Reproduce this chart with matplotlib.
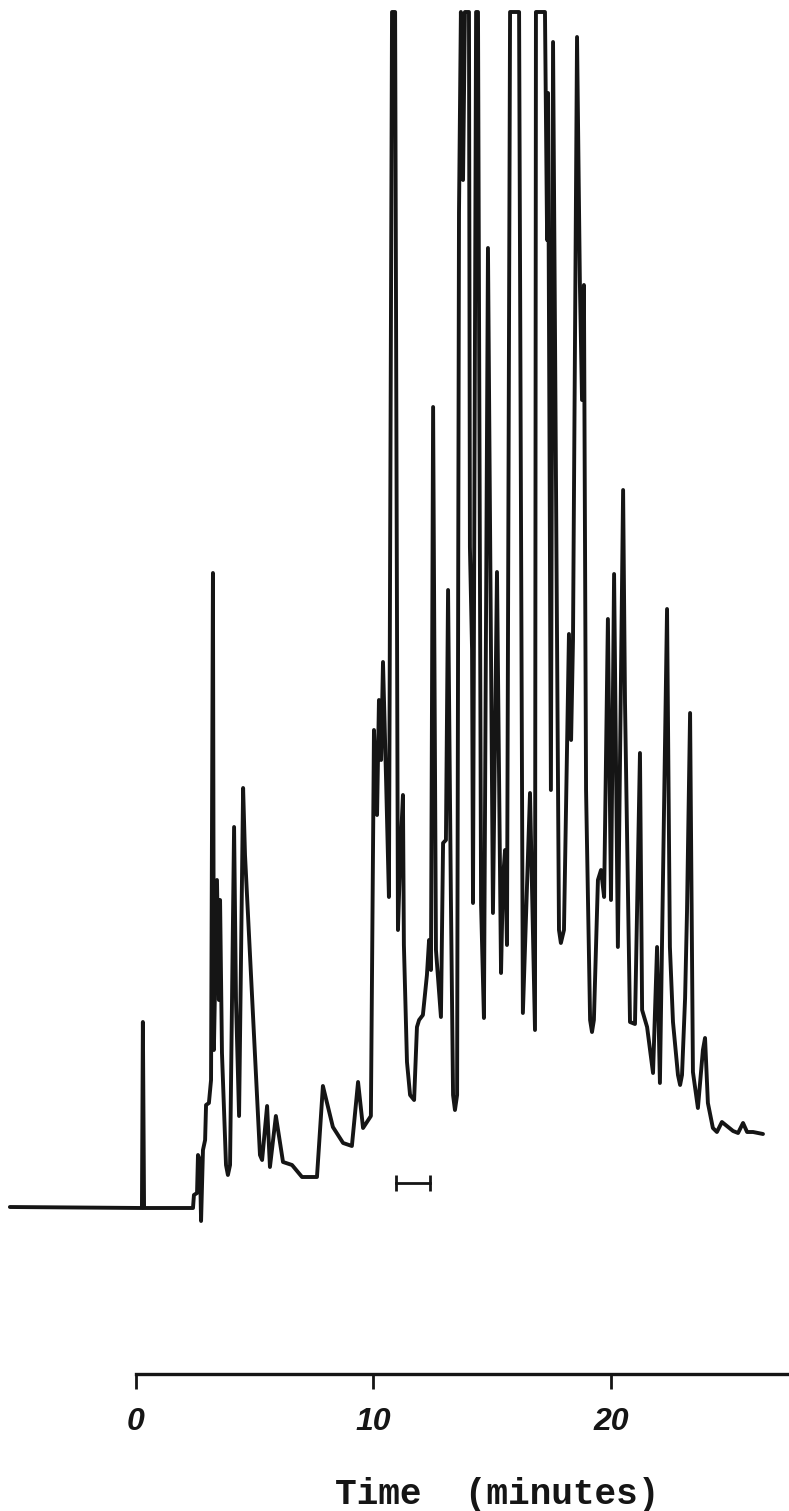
import matplotlib
matplotlib.use("Agg")
import matplotlib.pyplot as plt

# Chromatogram trace: retention time (min) and detector response (arbitrary units)
time_min = [
    -5.31, 0.25, 0.29, 0.34, 2.40, 2.44, 2.57, 2.61, 2.69, 2.74,
    2.82, 2.91, 2.95, 3.07, 3.16, 3.24, 3.28, 3.41, 3.49, 3.54,
    3.62, 3.79, 3.87, 3.96, 4.13, 4.21, 4.34, 4.51, 4.59, 5.22, 5.31, 5.52,
    5.64, 5.89, 6.19, 6.57, 6.99, 7.62, 7.87, 8.29, 8.72, 9.09,
    9.35, 9.56, 9.89, 10.02, 10.15, 10.23, 10.32, 10.40, 10.53, 10.65,
    10.78, 10.91, 11.03, 11.12, 11.24, 11.28, 11.41, 11.54, 11.71, 11.83,
    11.92, 12.08, 12.25, 12.34, 12.42, 12.51, 12.63, 12.84, 12.93, 13.05,
    13.14, 13.26, 13.35, 13.43, 13.52, 13.60, 13.68, 13.77, 13.85, 14.02, 14.06, 14.15,
    14.19, 14.32, 14.40, 14.53, 14.65, 14.82, 15.03, 15.20, 15.37, 15.45,
    15.54, 15.62, 15.75, 16.13, 16.29, 16.59, 16.80, 16.84, 17.22, 17.31,
    17.35, 17.47, 17.56, 17.81, 17.89, 18.02, 18.15, 18.23, 18.32, 18.40, 18.57, 18.69,
    18.78, 18.86, 18.95, 19.12, 19.20, 19.28, 19.45, 19.58, 19.71, 19.87, 20.00, 20.13,
    20.29, 20.51, 20.59, 20.80, 21.01, 21.22, 21.31, 21.52, 21.77, 21.94,
    22.06, 22.36, 22.48, 22.61, 22.82, 22.91, 22.99, 23.12, 23.20, 23.33, 23.45, 23.66,
    23.87, 23.96, 24.08, 24.29, 24.46, 24.67, 24.93, 25.14, 25.35, 25.56,
    25.73, 25.98, 26.40,
]
signal = [
    0.1, 0.0, 18.6, 0.0, 0.0, 1.3, 1.5, 5.3, 4.8, -1.3,
    5.8, 6.8, 10.3, 10.5, 12.8, 63.5, 15.8, 32.8, 20.8, 30.8,
    15.5, 4.3, 3.3, 4.3, 38.1, 20.8, 9.2, 42.0, 35.3, 5.3, 4.8, 10.2,
    4.1, 9.2, 4.6, 4.3, 3.1, 3.1, 12.2, 8.1, 6.5, 6.2,
    12.6, 8.0, 9.2, 47.8, 39.3, 50.8, 44.8, 54.6, 42.8, 31.1,
    119.6, 119.6, 27.8, 34.8, 41.3, 26.3, 14.6, 11.3, 10.8, 18.1,
    18.8, 19.3, 23.3, 26.8, 23.8, 80.1, 25.8, 19.1, 36.5, 36.8,
    61.8, 30.8, 11.3, 9.8, 11.3, 99.5, 119.6, 102.8, 119.6, 119.6, 66.1, 55.8,
    30.5, 119.6, 119.6, 30.3, 19.0, 96.0, 29.5, 63.6, 23.5, 32.8,
    35.8, 26.3, 119.6, 119.6, 19.5, 41.5, 17.8, 119.6, 119.6, 96.8,
    111.5, 41.8, 116.6, 27.8, 26.5, 27.8, 46.0, 57.4, 46.8, 56.8, 117.1, 92.5,
    80.8, 92.3, 41.8, 18.8, 17.6, 18.8, 32.8, 33.8, 31.1, 58.9, 30.8, 63.4,
    26.1, 71.8, 50.5, 18.6, 18.4, 45.5, 19.8, 18.1, 13.5, 26.1,
    12.5, 59.9, 26.1, 18.6, 13.3, 12.3, 13.3, 21.0, 29.6, 49.5, 13.6, 10.0,
    15.8, 17.0, 10.5, 8.0, 7.6, 8.6, 8.1, 7.7, 7.5, 8.5,
    7.6, 7.6, 7.4,
]

# Fraction-collection window marked under the trace
window_min = [10.95, 12.38]
window_level = 2.5

# Time axis
tick_values = [0, 10, 20]
tick_labels = ["0", "10", "20"]
axis_end_min = 27.5
axis_level = -16.6

ink = "#151515"

fig = plt.figure(figsize=(7.89, 15.11), dpi=100)
ax = fig.add_axes([0, 0, 1, 1])
ax.set_xlim(-5.726, 27.495)
ax.set_ylim(-30.3, 120.8)

ax.plot(time_min, signal, color=ink, lw=2.8, solid_joinstyle="round",
        solid_capstyle="round")

ax.plot(window_min, [window_level, window_level], color=ink, lw=2.0,
        marker="|", markersize=11.5, markeredgewidth=2.0)

for side in ("top", "right", "left"):
    ax.spines[side].set_visible(False)
ax.spines["bottom"].set_position(("data", axis_level))
ax.spines["bottom"].set_bounds(0, axis_end_min)
ax.spines["bottom"].set_linewidth(2.4)
ax.spines["bottom"].set_color(ink)

ax.set_yticks([])
ax.set_xticks(tick_values)
ax.set_xticklabels(tick_labels)
ax.tick_params(axis="x", direction="out", length=11, width=2.0,
               color=ink, pad=13, labelsize=23, labelcolor=ink)
for lbl in ax.get_xticklabels():
    lbl.set_fontfamily("Liberation Sans")
    lbl.set_fontstyle("italic")
    lbl.set_fontweight("bold")

ax.set_xlabel("Time  (minutes)", fontfamily="Liberation Mono",
              fontweight="bold", fontsize=26, color=ink)
ax.xaxis.set_label_coords(0.63, 0.0225)
ax.xaxis.label.set_verticalalignment("top")

ax.set_facecolor("white")
fig.patch.set_facecolor("white")
fig.savefig("out.png", dpi=100, facecolor="white")
